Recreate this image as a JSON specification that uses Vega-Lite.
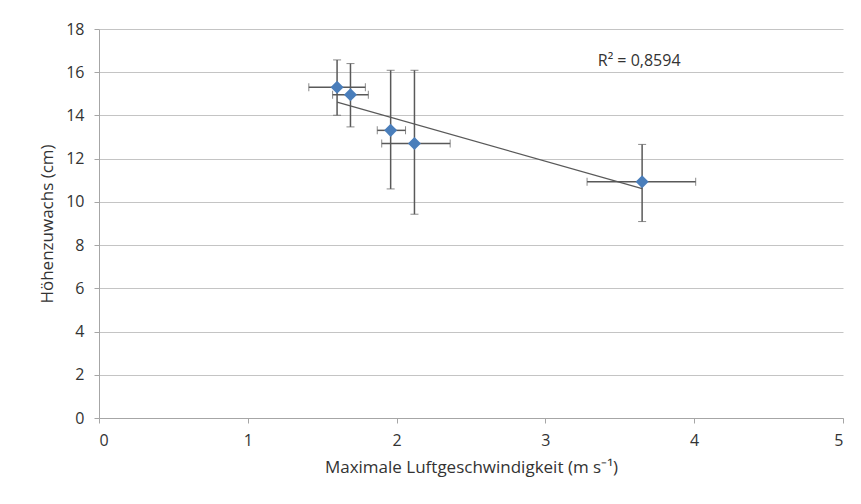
{
  "$schema": "https://vega.github.io/schema/vega-lite/v6.json",
  "width": 744,
  "height": 389,
  "autosize": {"type": "none"},
  "padding": {"left": 99, "top": 29, "right": 18, "bottom": 86},
  "background": "white",
  "config": {
    "view": {"stroke": null},
    "font": "Open Sans",
    "axis": {
      "labelFont": "Open Sans",
      "titleFont": "Open Sans",
      "labelFontSize": 16,
      "titleFontSize": 17,
      "titleFontWeight": "normal",
      "labelColor": "#333333",
      "titleColor": "#333333",
      "domainColor": "#a6a6a6",
      "tickColor": "#a6a6a6",
      "gridColor": "#c4c4c4",
      "tickSize": 5
    }
  },
  "data": {
    "values": [
      {"x": 1.60, "y": 15.30, "xlo": 1.41, "xhi": 1.79, "ylo": 14.01, "yhi": 16.57},
      {"x": 1.69, "y": 14.96, "xlo": 1.57, "xhi": 1.81, "ylo": 13.47, "yhi": 16.40},
      {"x": 1.96, "y": 13.31, "xlo": 1.87, "xhi": 2.06, "ylo": 10.60, "yhi": 16.09},
      {"x": 2.12, "y": 12.70, "xlo": 1.90, "xhi": 2.36, "ylo": 9.43, "yhi": 16.09},
      {"x": 3.65, "y": 10.93, "xlo": 3.28, "xhi": 4.01, "ylo": 9.09, "yhi": 12.66}
    ]
  },
  "layer": [
    {
      "mark": {"type": "errorbar", "ticks": {"size": 8, "color": "#595959", "strokeWidth": 1.5}, "rule": {"color": "#595959", "strokeWidth": 1.5}},
      "encoding": {
        "x": {"field": "xlo", "type": "quantitative",
              "scale": {"domain": [0, 5], "nice": false},
              "axis": {"values": [0, 1, 2, 3, 4, 5], "format": "d", "grid": false, "labelPadding": 9, "titlePadding": 11, "title": "Maximale Luftgeschwindigkeit (m s⁻¹)"}},
        "x2": {"field": "xhi"},
        "y": {"field": "y", "type": "quantitative",
              "scale": {"domain": [0, 18], "nice": false},
              "axis": {"values": [0, 2, 4, 6, 8, 10, 12, 14, 16, 18], "grid": true, "labelPadding": 10, "titlePadding": 9, "title": "Höhenzuwachs (cm)"}}
      }
    },
    {
      "mark": {"type": "errorbar", "ticks": {"size": 8, "color": "#595959", "strokeWidth": 1.5}, "rule": {"color": "#595959", "strokeWidth": 1.5}},
      "encoding": {
        "y": {"field": "ylo", "type": "quantitative", "title": "Höhenzuwachs (cm)"},
        "y2": {"field": "yhi"},
        "x": {"field": "x", "type": "quantitative", "title": "Maximale Luftgeschwindigkeit (m s⁻¹)"}
      }
    },
    {
      "transform": [{"regression": "y", "on": "x"}],
      "mark": {"type": "line", "color": "#595959", "strokeWidth": 1.2},
      "encoding": {
        "x": {"field": "x", "type": "quantitative", "title": "Maximale Luftgeschwindigkeit (m s⁻¹)"},
        "y": {"field": "y", "type": "quantitative", "title": "Höhenzuwachs (cm)"}
      }
    },
    {
      "mark": {"type": "point", "shape": "diamond", "filled": true, "size": 170, "color": "#4a7ebb", "opacity": 1},
      "encoding": {
        "x": {"field": "x", "type": "quantitative", "title": "Maximale Luftgeschwindigkeit (m s⁻¹)"},
        "y": {"field": "y", "type": "quantitative", "title": "Höhenzuwachs (cm)"}
      }
    },
    {
      "data": {"values": [{"x": 3.63, "y": 16.5, "label": "R² = 0,8594"}]},
      "mark": {"type": "text", "font": "Open Sans", "fontSize": 16, "color": "#333333", "align": "center", "baseline": "middle"},
      "encoding": {
        "x": {"field": "x", "type": "quantitative", "title": "Maximale Luftgeschwindigkeit (m s⁻¹)"},
        "y": {"field": "y", "type": "quantitative", "title": "Höhenzuwachs (cm)"},
        "text": {"field": "label"}
      }
    }
  ]
}
